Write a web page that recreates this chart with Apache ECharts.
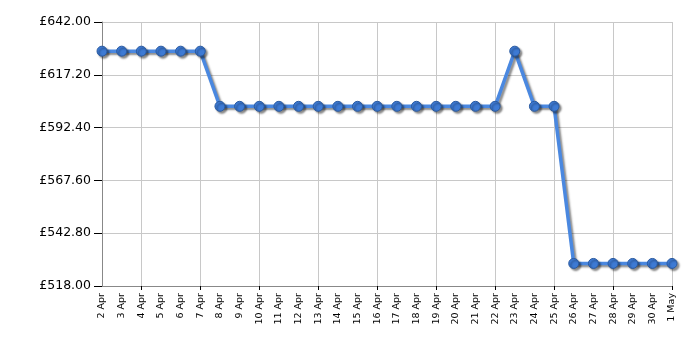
<!DOCTYPE html>
<html><head><meta charset="utf-8">
<script src="https://cdn.jsdelivr.net/npm/echarts@6/dist/echarts.min.js"></script>
<style>html,body{margin:0;padding:0;background:#fff}#c{width:700px;height:350px}</style>
</head><body><div id="c"></div>
<script>
var categories = ['2 Apr','3 Apr','4 Apr','5 Apr','6 Apr','7 Apr','8 Apr','9 Apr','10 Apr','11 Apr','12 Apr','13 Apr','14 Apr','15 Apr','16 Apr','17 Apr','18 Apr','19 Apr','20 Apr','21 Apr','22 Apr','23 Apr','24 Apr','25 Apr','26 Apr','27 Apr','28 Apr','29 Apr','30 Apr','1 May'];
var prices = [628.3,628.3,628.3,628.3,628.3,628.3,602.4,602.4,602.4,602.4,602.4,602.4,602.4,602.4,602.4,602.4,602.4,602.4,602.4,602.4,602.4,628.3,602.4,602.4,528.6,528.6,528.6,528.6,528.6,528.6];
var yMin = 518, yMax = 642, yStep = 24.8;

var chart = echarts.init(document.getElementById('c'));
var everyThird = function (i) { return i % 3 === 2; };
chart.setOption({
  animation: false,
  grid: { left: 102, right: 28, top: 22, bottom: 64 },
  xAxis: {
    type: 'category', data: categories, boundaryGap: false,
    axisLine: { lineStyle: { color: '#888', width: 1 } },
    axisTick: { show: true, interval: everyThird, length: 4, lineStyle: { color: '#000' } },
    axisLabel: { interval: 0, rotate: 90, fontFamily: 'DejaVu Sans', fontSize: 9.5, color: '#000', margin: 7 },
    splitLine: { show: true, interval: everyThird, lineStyle: { color: '#c8c8c8', width: 1 } }
  },
  yAxis: {
    type: 'value', min: yMin, max: yMax, interval: yStep,
    axisLine: { show: true, lineStyle: { color: '#888', width: 1 } },
    axisTick: { show: true, length: 8, lineStyle: { color: '#000' } },
    axisLabel: { fontFamily: 'DejaVu Sans', fontSize: 12.5, color: '#000', margin: 11,
      formatter: function (v) { return '£' + v.toFixed(2); } },
    splitLine: { show: true, lineStyle: { color: '#c8c8c8', width: 1 } }
  },
  series: [{
    type: 'line', data: prices, symbol: 'circle', symbolSize: 10,
    lineStyle: { color: '#4a88e0', width: 3.5, shadowColor: 'rgba(0,0,0,0.45)', shadowBlur: 2, shadowOffsetX: 2, shadowOffsetY: 2 },
    itemStyle: { color: '#3d7ad4', borderColor: '#2a5aa0', borderWidth: 1, shadowColor: 'rgba(0,0,0,0.45)', shadowBlur: 2, shadowOffsetX: 2, shadowOffsetY: 2 }
  }]
});
</script></body></html>
